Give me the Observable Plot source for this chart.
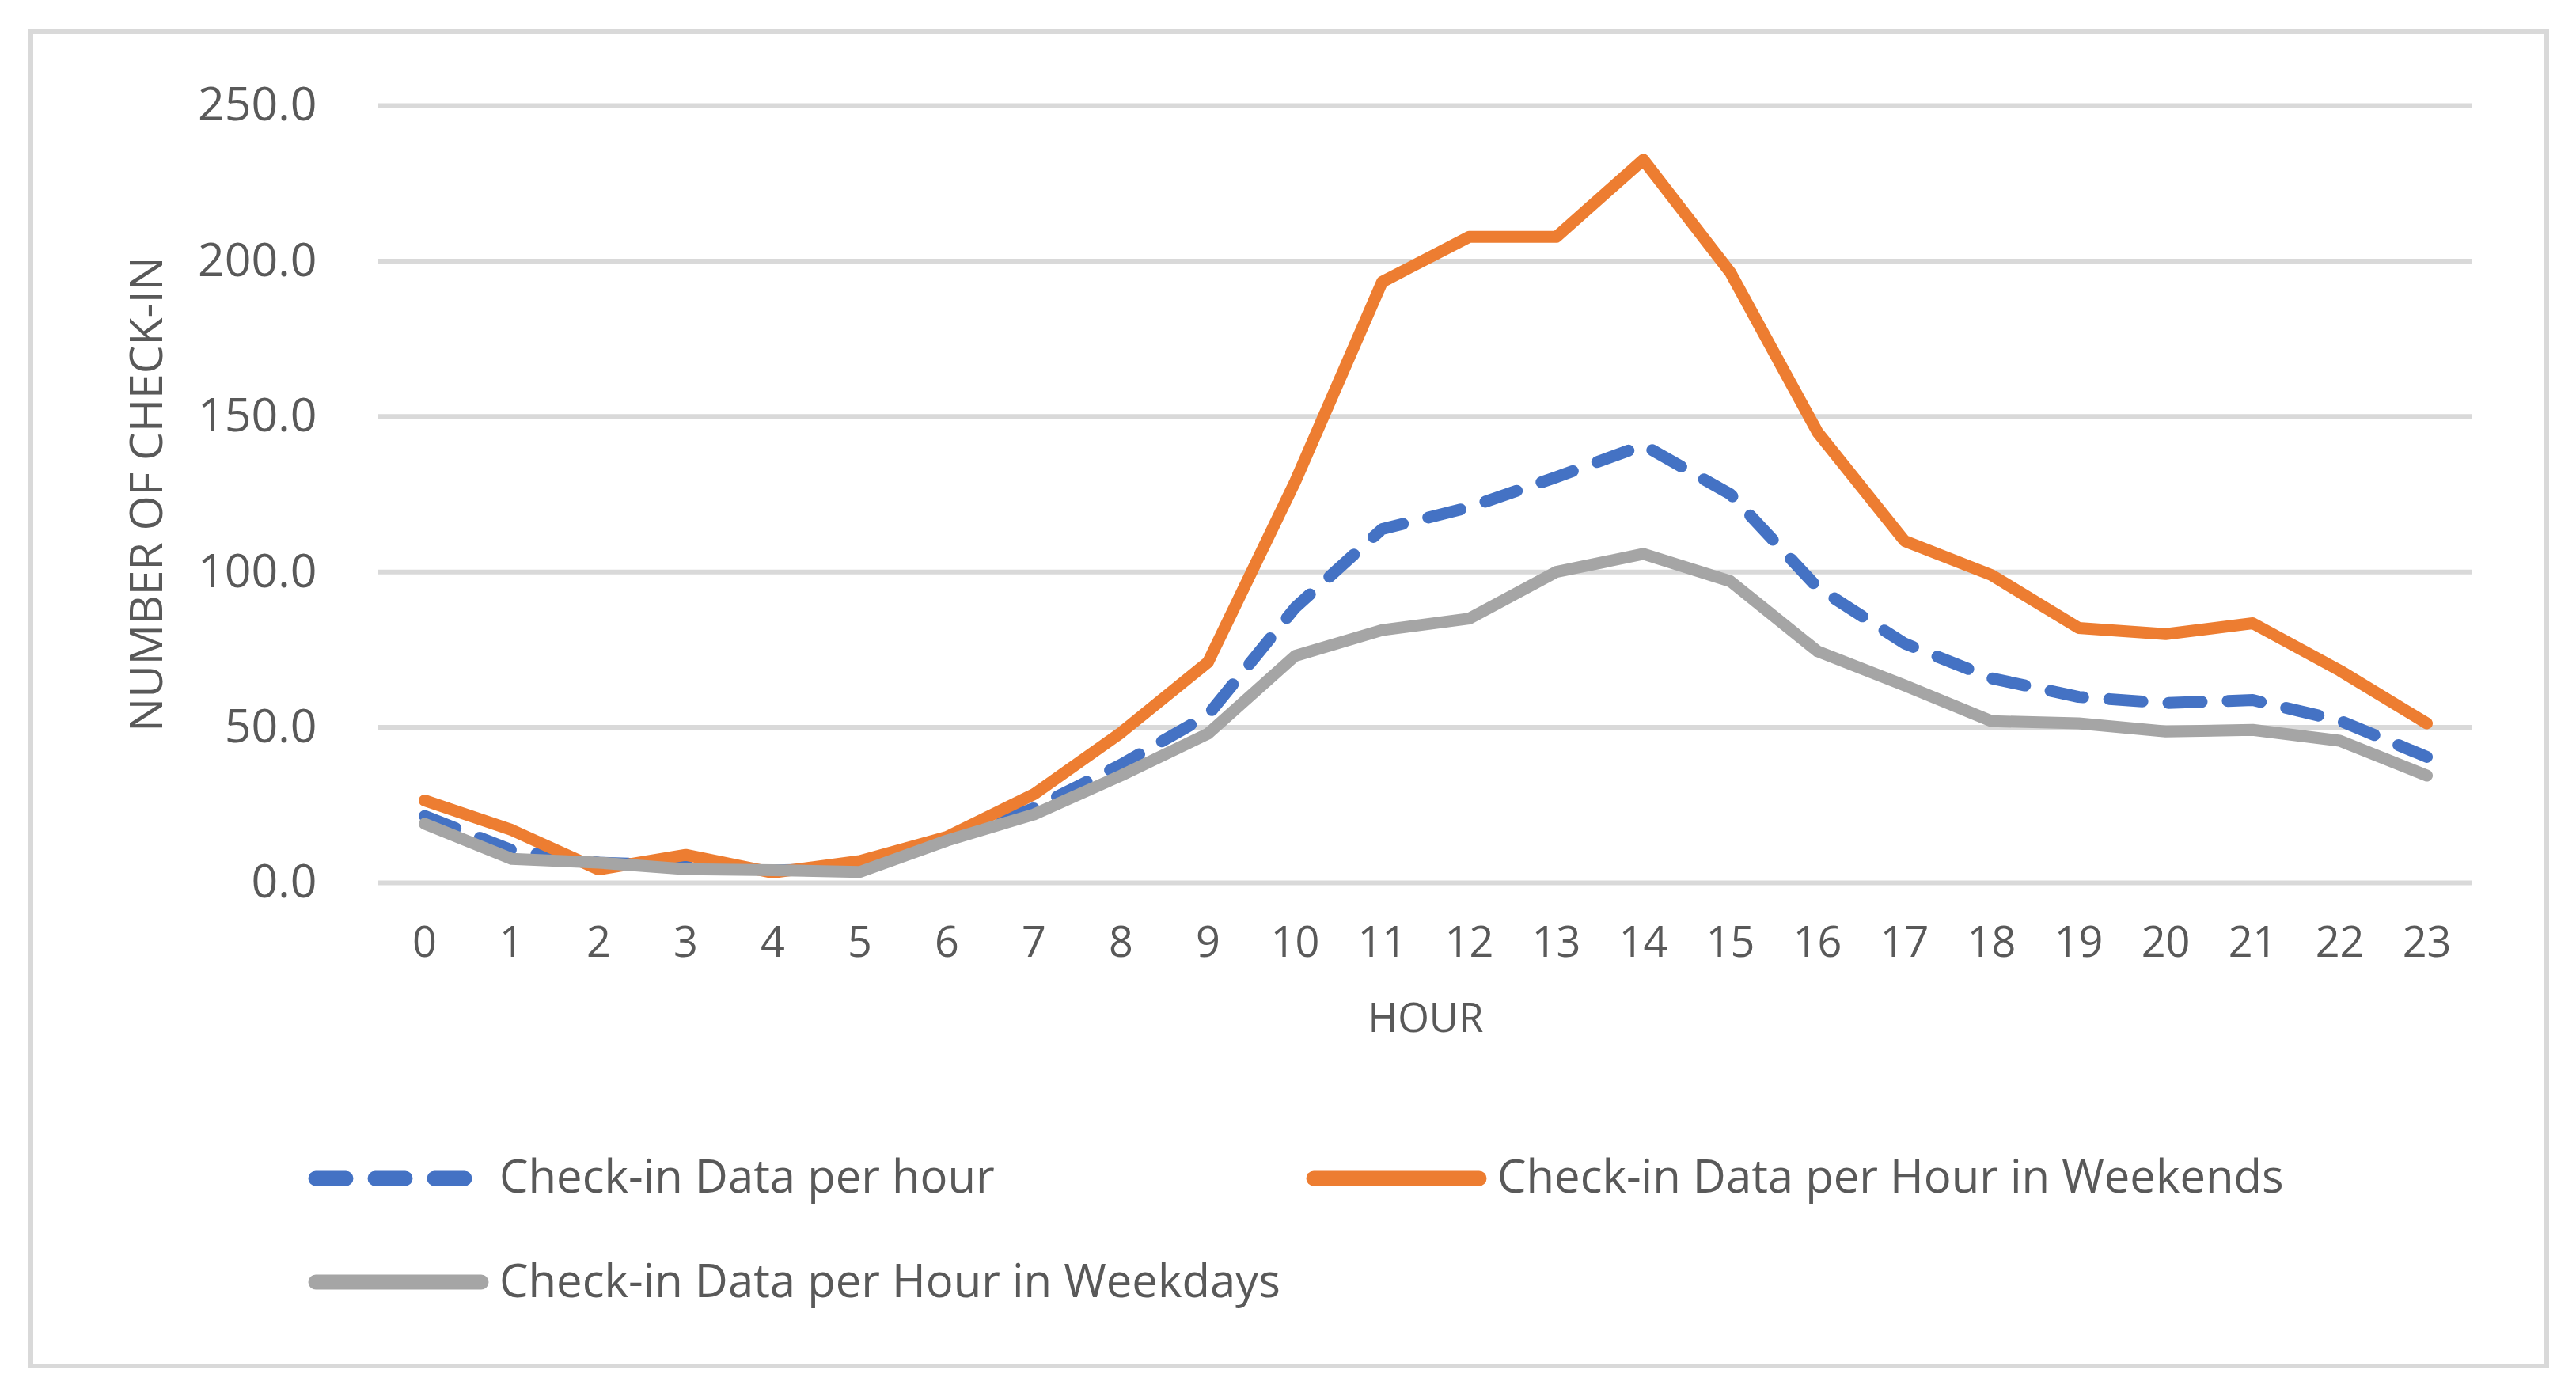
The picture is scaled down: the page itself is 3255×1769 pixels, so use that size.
<!DOCTYPE html>
<html>
<head>
<meta charset="utf-8">
<script src="https://cdn.jsdelivr.net/npm/d3@7"></script>
<script src="https://cdn.jsdelivr.net/npm/@observablehq/plot@0.6"></script>
<style>
html, body { margin: 0; padding: 0; background: #fff; }
#wrap { position: relative; width: 3255px; height: 1769px; overflow: hidden; font-family: "Open Sans", sans-serif; }
#frame { position: absolute; left: 36px; top: 37px; width: 3185px; height: 1692px; border: 6px solid #d9d9d9; box-sizing: border-box; }
#chart { position: absolute; left: 0; top: 0; }
#legend { position: absolute; left: 0; top: 0; }
</style>
</head>
<body>
<div id="wrap"><div id="frame"></div><div id="chart"></div><svg id="legend" width="3255" height="1769"></svg></div>
<script>
// ---- data ----
const hours = [0, 1, 2, 3, 4, 5, 6, 7, 8, 9, 10, 11, 12, 13, 14, 15, 16, 17, 18, 19, 20, 21, 22, 23];
const perHour  = [21.5, 10.5, 6.5, 5.5, 4.0, 4.5, 13.7, 24.0, 38.0, 54.0, 88.5, 113.8, 120.8, 130.5, 140.8, 125.0, 95.0, 77.0, 65.8, 59.8, 57.8, 58.8, 52.2, 40.5];
const weekends = [26.5, 17.0, 4.3, 9.0, 3.3, 7.0, 14.8, 28.5, 48.3, 71.0, 129.0, 193.3, 207.8, 207.8, 232.6, 196.3, 145.0, 110.0, 99.0, 82.0, 80.0, 83.5, 68.3, 51.3];
const weekdays = [19.0, 7.7, 6.5, 4.4, 4.1, 3.5, 13.6, 22.0, 34.5, 48.0, 73.0, 81.3, 85.0, 100.0, 105.8, 97.0, 74.5, 63.5, 52.0, 51.3, 48.7, 49.2, 45.7, 34.5];
const seriesNames = ["Check-in Data per hour", "Check-in Data per Hour in Weekends", "Check-in Data per Hour in Weekdays"];
const seriesColors = ["#4472C4", "#ED7D31", "#A5A5A5"];
const yTicks = [0, 50, 100, 150, 200, 250];
const xTitle = "HOUR";
const yTitle = "NUMBER OF CHECK-IN";

const textColor = "#595959";

const chart = Plot.plot({
  width: 3255,
  height: 1330,
  marginLeft: 478,
  marginRight: 131,
  marginTop: 133,
  marginBottom: 215,
  style: { fontFamily: "'Open Sans', sans-serif", color: textColor, background: "transparent", overflow: "visible" },
  x: { type: "point", domain: hours, padding: 0.5 },
  y: { domain: [0, 250] },
  marks: [
    Plot.ruleY(yTicks, { stroke: "#d9d9d9", strokeWidth: 6 }),
    Plot.axisY(yTicks, { tickSize: 0, tickPadding: 78, tickFormat: d3.format(".1f"), fontSize: 59, fill: textColor, label: null }),
    Plot.axisX(hours, { tickSize: 0, tickPadding: 55, fontSize: 54, fill: textColor, label: null }),
    Plot.lineY(perHour, { x: hours, stroke: seriesColors[0], strokeWidth: 15, strokeDasharray: "42,33", strokeLinecap: "round", strokeLinejoin: "round" }),
    Plot.lineY(weekends, { x: hours, stroke: seriesColors[1], strokeWidth: 15, strokeLinecap: "round", strokeLinejoin: "round" }),
    Plot.lineY(weekdays, { x: hours, stroke: seriesColors[2], strokeWidth: 15, strokeLinecap: "round", strokeLinejoin: "round" }),
    Plot.text([xTitle], { frameAnchor: "bottom", textAnchor: "middle", lineAnchor: "middle", dy: 172, fontSize: 51, fill: textColor }),
    Plot.text([yTitle], { frameAnchor: "left", textAnchor: "middle", rotate: -90, lineAnchor: "middle", dx: -292, fontSize: 57, fill: textColor })
  ]
});
document.getElementById("chart").appendChild(chart);

// ---- legend ----
const legend = d3.select("#legend");
const legendLayout = [
  { x: 399, y: 1489, tx: 631, ty: 1507, dash: "38,37" },
  { x: 1660, y: 1489, tx: 1892, ty: 1507, dash: null },
  { x: 399, y: 1620, tx: 631, ty: 1639, dash: null }
];
seriesNames.forEach((name, i) => {
  const L = legendLayout[i];
  legend.append("line")
    .attr("x1", L.x).attr("x2", L.x + 209)
    .attr("y1", L.y).attr("y2", L.y)
    .attr("stroke", seriesColors[i])
    .attr("stroke-width", 19)
    .attr("stroke-linecap", "round")
    .attr("stroke-dasharray", L.dash);
  legend.append("text")
    .attr("x", L.tx).attr("y", L.ty)
    .attr("fill", textColor)
    .attr("font-family", "'Open Sans', sans-serif")
    .attr("font-size", 58)
    .text(name);
});
</script>
</body>
</html>
